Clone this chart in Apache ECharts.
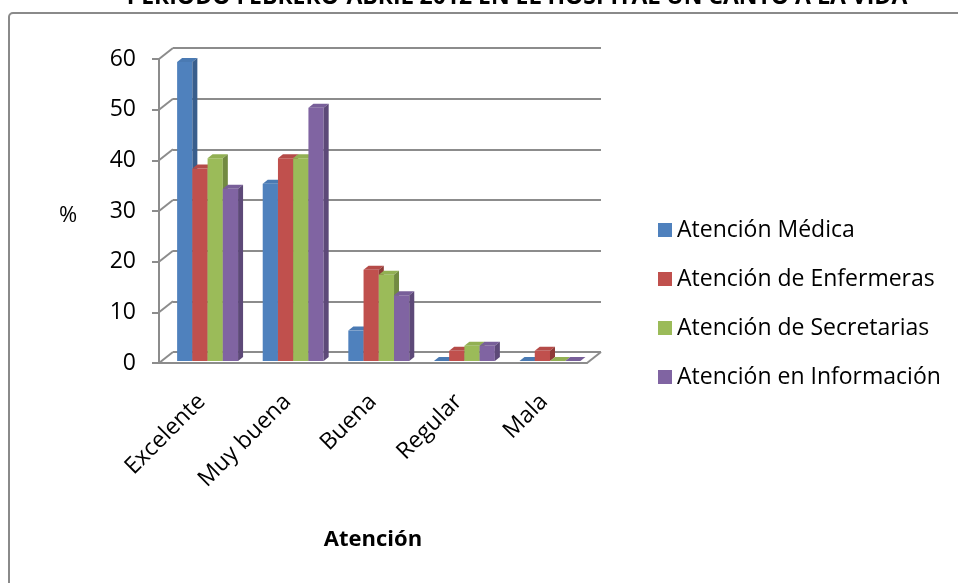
<!DOCTYPE html>
<html><head><meta charset="utf-8">
<script src="https://cdn.jsdelivr.net/npm/echarts@6/dist/echarts.min.js"></script>
<style>html,body{margin:0;padding:0;background:#fff}#c{width:958px;height:583px}</style>
</head><body><div id="c"></div>
<script>
const categories = ['Excelente', 'Muy buena', 'Buena', 'Regular', 'Mala'];
const seriesNames = ['Atención Médica', 'Atención de Enfermeras', 'Atención de Secretarias', 'Atención en Información'];
const medica = [59, 35, 6, 0, 0];
const enfermeras = [38, 40, 18, 2, 2];
const secretarias = [40, 40, 17, 3, 0];
const informacion = [34, 50, 13, 3, 0];
const yTicks = [0, 10, 20, 30, 40, 50, 60];
const titleText = 'PERIODO FEBRERO-ABRIL 2012 EN EL HOSPITAL UN CANTO A LA VIDA';

const allValues = [medica, enfermeras, secretarias, informacion];
const colors = ['#4F81BD', '#C0504D', '#9BBB59', '#8064A2'];
const sideColors = ['#395E8C', '#8E3A37', '#728A41', '#5D4978'];
const topColors = ['#4A7AB3', '#B54B48', '#92B053', '#785F99'];
const FONT = '"Open Sans", "DejaVu Sans", sans-serif';
const DX = 14, DY = -11;

function barRender(s) {
  return function (params, api) {
    const cat = api.value(0), val = api.value(1);
    const band = api.size([1, 0])[0];
    const c0 = api.coord([cat, 0]);
    const c1 = api.coord([cat, val]);
    const bw = band * 0.178;
    const x = c0[0] - band / 2 + band * 0.2 + s * bw + 1;
    const y0 = c0[1] - 2, y1 = c1[1] - 2;
    const dx = 5, dy = -4;
    return {
      type: 'group',
      children: [
        { type: 'rect', shape: { x: x, y: y1, width: bw, height: y0 - y1 }, style: { fill: colors[s] } },
        { type: 'polygon', shape: { points: [[x, y1], [x + dx, y1 + dy], [x + bw + dx, y1 + dy], [x + bw, y1]] }, style: { fill: topColors[s] } },
        { type: 'polygon', shape: { points: [[x + bw, y1], [x + bw + dx, y1 + dy], [x + bw + dx, y0 + dy], [x + bw, y0]] }, style: { fill: sideColors[s] } }
      ]
    };
  };
}

const barSeries = allValues.map((vals, s) => ({
  name: seriesNames[s],
  type: 'custom',
  xAxisIndex: 0, yAxisIndex: 0,
  itemStyle: { color: colors[s] },
  renderItem: barRender(s),
  data: vals.map((v, i) => [i, v]),
  z: 10
}));

const diagSeries = {
  type: 'custom',
  xAxisIndex: 0, yAxisIndex: 0,
  silent: true,
  data: yTicks.map(v => [0, v]),
  renderItem: function (params, api) {
    const v = api.value(1);
    const y = api.coord([0, v])[1];
    const x = params.coordSys.x;
    const w = params.coordSys.width;
    const children = [{ type: 'line', shape: { x1: x, y1: y, x2: x + DX, y2: y + DY }, style: { stroke: '#8C8C8C', lineWidth: 2 } }];
    if (v === 0) {
      children.push({ type: 'line', shape: { x1: x + w, y1: y, x2: x + w + DX, y2: y + DY }, style: { stroke: '#8C8C8C', lineWidth: 2 } });
    }
    return { type: 'group', children: children };
  },
  z: 2
};

const chart = echarts.init(document.getElementById('c'));
chart.setOption({
  backgroundColor: '#fff',
  animation: false,
  title: {
    text: titleText, left: 512, textAlign: 'center', top: -19,
    textStyle: { fontFamily: FONT, fontSize: 23, fontWeight: 'bold', color: '#000' }
  },
  graphic: [
    {
      type: 'rect', shape: { x: 9, y: 13, width: 980, height: 600, r: 4 },
      style: { fill: 'none', stroke: '#8A8A8A', lineWidth: 2 }, z: -1
    },
    {
      type: 'text', left: 59, top: 205,
      style: { text: '%', fontFamily: FONT, fontSize: 22, fill: '#000' }
    }
  ],
  legend: {
    orient: 'vertical', left: 653, top: 212, itemWidth: 14, itemHeight: 14, itemGap: 23,
    icon: 'rect',
    data: seriesNames,
    textStyle: { fontFamily: FONT, fontSize: 23, color: '#000', lineHeight: 26 }
  },
  grid: [
    { left: 159, top: 59, width: 428, height: 304 },
    { left: 159 + DX, top: 59 + DY, width: 428, height: 304 }
  ],
  xAxis: [
    {
      type: 'category', gridIndex: 0, data: categories,
      axisLine: { lineStyle: { color: '#8C8C8C', width: 2 } },
      axisTick: { length: 7, lineStyle: { color: '#8C8C8C', width: 2 } },
      axisLabel: { rotate: 45, margin: 35, color: '#000', fontFamily: FONT, fontSize: 23 },
      name: 'Atención', nameLocation: 'middle', nameGap: 166,
      nameTextStyle: { fontFamily: FONT, fontSize: 22, fontWeight: 'bold', color: '#000' }
    },
    { type: 'category', gridIndex: 1, data: categories, show: false }
  ],
  yAxis: [
    {
      type: 'value', gridIndex: 0, min: 0, max: 60, interval: 10,
      axisLine: { show: true, lineStyle: { color: '#8C8C8C', width: 2 } },
      axisTick: { show: true, length: 7, lineStyle: { color: '#8C8C8C', width: 2 } },
      splitLine: { show: false },
      axisLabel: { margin: 23, color: '#000', fontFamily: FONT, fontSize: 23 }
    },
    {
      type: 'value', gridIndex: 1, min: 0, max: 60, interval: 10,
      axisLine: { show: false }, axisTick: { show: false }, axisLabel: { show: false },
      splitLine: { show: true, lineStyle: { color: '#8C8C8C', width: 2 } }
    }
  ],
  series: [diagSeries].concat(barSeries)
});
</script></body></html>
